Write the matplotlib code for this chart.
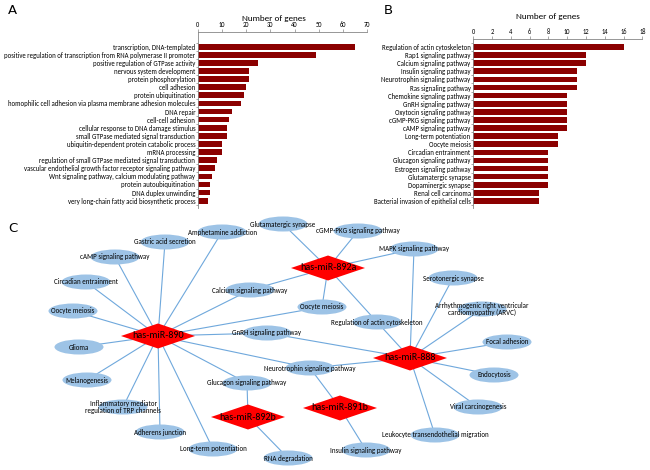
import matplotlib
matplotlib.use("Agg")
import matplotlib.pyplot as plt
from matplotlib.patches import Ellipse, Polygon
import numpy as np

plt.rcParams["font.family"] = ["Carlito", "Liberation Sans Narrow", "Lato", "DejaVu Sans"]

# ----------------------------------------------------------------------
# DATA
# ----------------------------------------------------------------------
go_terms = [
    "transcription, DNA-templated",
    "positive regulation of transcription from RNA polymerase II promoter",
    "positive regulation of GTPase activity",
    "nervous system development",
    "protein phosphorylation",
    "cell adhesion",
    "protein ubiquitination",
    "homophilic cell adhesion via plasma membrane adhesion molecules",
    "DNA repair",
    "cell-cell adhesion",
    "cellular response to DNA damage stimulus",
    "small GTPase mediated signal transduction",
    "ubiquitin-dependent protein catabolic process",
    "mRNA processing",
    "regulation of small GTPase mediated signal transduction",
    "vascular endothelial growth factor receptor signaling pathway",
    "Wnt signaling pathway, calcium modulating pathway",
    "protein autoubiquitination",
    "DNA duplex unwinding",
    "very long-chain fatty acid biosynthetic process",
]
go_counts = [65, 49, 25, 21, 21, 20, 19, 18, 14, 13, 12, 12, 10, 10, 8, 7, 6, 5, 5, 4]

kegg_terms = [
    "Regulation of actin cytoskeleton",
    "Rap1 signaling pathway",
    "Calcium signaling pathway",
    "Insulin signaling pathway",
    "Neurotrophin signaling pathway",
    "Ras signaling pathway",
    "Chemokine signaling pathway",
    "GnRH signaling pathway",
    "Oxytocin signaling pathway",
    "cGMP-PKG signaling pathway",
    "cAMP signaling pathway",
    "Long-term potentiation",
    "Oocyte meiosis",
    "Circadian entrainment",
    "Glucagon signaling pathway",
    "Estrogen signaling pathway",
    "Glutamatergic synapse",
    "Dopaminergic synapse",
    "Renal cell carcinoma",
    "Bacterial invasion of epithelial cells",
]
kegg_counts = [16, 12, 12, 11, 11, 11, 10, 10, 10, 10, 10, 9, 9, 8, 8, 8, 8, 8, 7, 7]

# network: miRNA hubs and pathway nodes (positions in figure pixels)
hub_names = ["has-miR-890", "has-miR-892a", "has-miR-888", "has-miR-892b", "has-miR-891b"]
hub_x = [158, 328, 410, 248, 340]
hub_y = [336, 268, 358, 417, 408]

pathway_names = [
    "Amphetamine addiction", "Gastric acid secretion", "cAMP signaling pathway",
    "Circadian entrainment", "Oocyte meiosis", "Glioma", "Melanogenesis",
    "Inflammatory mediator\nregulation of TRP channels", "Adherens junction",
    "Long-term potentiation", "RNA degradation", "Glucagon signaling pathway",
    "Neurotrophin signaling pathway", "GnRH signaling pathway",
    "Calcium signaling pathway", "Oocyte meiosis", "Glutamatergic synapse",
    "cGMP-PKG signaling pathway", "MAPK signaling pathway", "Serotonergic synapse",
    "Arrhythmogenic right ventricular\ncardiomyopathy (ARVC)",
    "Regulation of actin cytoskeleton", "Focal adhesion", "Endocytosis",
    "Viral carcinogenesis", "Leukocyte transendothelial migration",
    "Insulin signaling pathway",
]
pathway_x = [222, 165, 115, 86, 73, 79, 87, 123, 160, 213, 288, 247, 310, 267,
             250, 322, 283, 358, 414, 453, 482, 377, 507, 494, 478, 435, 366]
pathway_y = [232, 242, 257, 282, 311, 347, 380, 407, 432, 449, 458, 383, 368, 333,
             290, 307, 224, 231, 249, 278, 309, 322, 342, 375, 407, 435, 450]

# (hub index, pathway index)
edges = (
    [(0, p) for p in [0, 1, 2, 3, 4, 5, 6, 7, 8, 9, 11, 12, 13, 14, 15]]
    + [(1, p) for p in [14, 15, 16, 17, 18, 21]]
    + [(2, p) for p in [12, 13, 18, 19, 20, 21, 22, 23, 24, 25]]
    + [(3, p) for p in [10, 11]]
    + [(4, p) for p in [12, 26]]
)

BAR_COLOR = "#8b0000"
SPINE_COLOR = "#868686"
W, H = 650, 470


def bar_panel(rect, terms, counts, xmax, step, ylim):
    ax = fig.add_axes(rect)
    y = np.arange(len(terms))
    ax.barh(y, counts, height=0.7, color=BAR_COLOR)
    ax.set_xlim(0, xmax)
    ax.set_ylim(*ylim)
    ax.xaxis.tick_top()
    ax.set_xticks(np.arange(0, xmax + 1, step))
    ax.tick_params(axis="x", labelsize=4.7, length=2, width=0.5, pad=1,
                   color=SPINE_COLOR)
    ax.set_yticks(y)
    ax.set_yticklabels(terms)
    ax.tick_params(axis="y", labelsize=4.9, length=0, pad=2)
    ax.set_yticks(np.arange(-0.5, len(terms), 1), minor=True)
    ax.tick_params(axis="y", which="minor", length=1.5, width=0.5, color=SPINE_COLOR)
    for s in ["right", "bottom"]:
        ax.spines[s].set_visible(False)
    for s in ["top", "left"]:
        ax.spines[s].set_color(SPINE_COLOR)
        ax.spines[s].set_linewidth(0.6)
    return ax


fig = plt.figure(figsize=(6.5, 4.7), dpi=100)

# network panel on a pixel-coordinate canvas
net = fig.add_axes([0, 0, 1, 1], zorder=-1)
net.set_xlim(0, W)
net.set_ylim(H, 0)
net.axis("off")

for h, p in edges:
    net.plot([hub_x[h], pathway_x[p]], [hub_y[h], pathway_y[p]],
             color="#6fa8dc", lw=0.8, zorder=1)

for name, px, py in zip(pathway_names, pathway_x, pathway_y):
    net.add_patch(Ellipse((px, py), 49, 15, facecolor="#9dc3e6",
                          edgecolor="none", zorder=2))
    net.text(px, py, name, ha="center", va="center", fontsize=5.0,
             linespacing=1.05, zorder=4)

for name, hx, hy in zip(hub_names, hub_x, hub_y):
    diamond = [(hx - 37, hy), (hx, hy - 12.5), (hx + 37, hy), (hx, hy + 12.5)]
    net.add_patch(Polygon(diamond, closed=True, facecolor="#ff0000",
                          edgecolor="none", zorder=3))
    net.text(hx, hy, name, ha="center", va="center", fontsize=7.2, zorder=4)

# bar panels
bar_panel([198 / W, 1 - 208 / H, 169 / W, 176.3 / H], go_terms, go_counts,
          70, 10, (19.9, -1.85))
bar_panel([473.3 / W, 1 - 208 / H, 169 / W, 169 / H], kegg_terms, kegg_counts,
          18, 2, (19.87, -0.99))

fig.text(274 / W, 1 - 18 / H, "Number of genes", ha="center", va="center", fontsize=6.6)
fig.text(548 / W, 1 - 17 / H, "Number of genes", ha="center", va="center", fontsize=6.6)

fig.text(8 / W, 1 - 11 / H, "A", fontsize=9.5, va="center", family="DejaVu Sans")
fig.text(384 / W, 1 - 11 / H, "B", fontsize=9.5, va="center", family="DejaVu Sans")
fig.text(8 / W, 1 - 228 / H, "C", fontsize=9.5, va="center", family="DejaVu Sans")

fig.savefig("out.png", dpi=100)
